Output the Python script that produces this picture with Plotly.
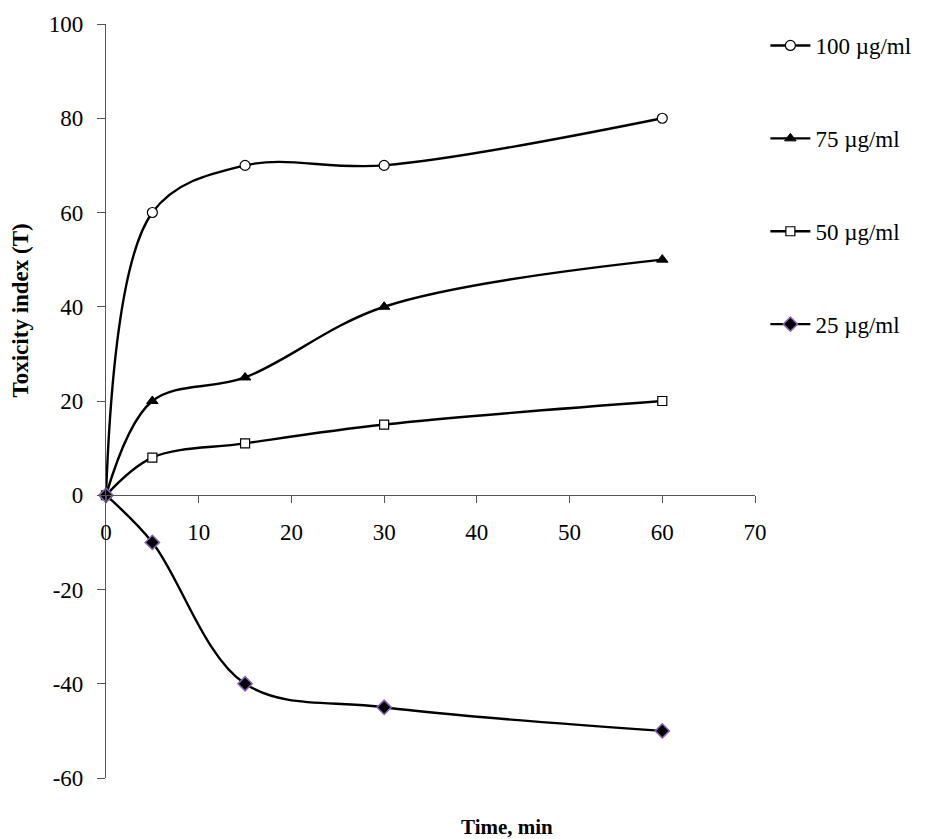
import plotly.graph_objects as go

time_min = [0, 5, 15, 30, 60]
series_names = ["100 µg/ml", "75 µg/ml", "50 µg/ml", "25 µg/ml"]
tox_100 = [0, 60, 70, 70, 80]
tox_75 = [0, 20, 25, 40, 50]
tox_50 = [0, 8, 11, 15, 20]
tox_25 = [0, -10, -40, -45, -50]
x_ticks = [0, 10, 20, 30, 40, 50, 60, 70]
y_ticks = [-60, -40, -20, 0, 20, 40, 60, 80, 100]
y_tick_text = ["-60", "-40", "-20", "0", "20", "40", "60", "80", "100"]

FONT = "Liberation Serif, Times New Roman, serif"

styles = [
    dict(symbol="circle", color="white", line=dict(color="black", width=1.2), size=10),
    dict(symbol="triangle-up", color="black", line=dict(color="black", width=1), size=10),
    dict(symbol="square", color="white", line=dict(color="black", width=1.2), size=9),
    dict(symbol="diamond", color="black", line=dict(color="#8a63b8", width=1.5), size=11),
]

fig = go.Figure()
for i, (name, vals) in enumerate(zip(series_names, [tox_100, tox_75, tox_50, tox_25])):
    fig.add_trace(go.Scatter(
        x=time_min, y=vals, name=name, mode="lines+markers",
        line=dict(color="black", width=2.4, shape="spline", smoothing=1.0),
        marker=styles[i], cliponaxis=False, legendgroup=f"g{i}",
    ))

ypos = 60 / 160

fig.update_layout(
    width=925, height=839,
    margin=dict(l=98, r=178, t=16, b=69, autoexpand=False),
    paper_bgcolor="white", plot_bgcolor="white",
    font=dict(family=FONT, size=22, color="black"),
    showlegend=True,
    legend=dict(x=1.016, y=1.0, xanchor="left", yanchor="top",
                tracegroupgap=60, itemwidth=40, font=dict(size=23, family=FONT),
                bgcolor="rgba(0,0,0,0)"),
    xaxis=dict(range=[0, 70], tickvals=x_ticks, anchor="free", position=ypos,
               showline=True, linecolor="#555", linewidth=1.2,
               ticks="outside", ticklen=7, tickcolor="#555", tickwidth=1.2,
               showgrid=False, zeroline=False, ticklabelstandoff=9,
               automargin=False, tickfont=dict(size=23, family=FONT)),
    xaxis2=dict(range=[0, 70], tickvals=x_ticks, overlaying="x", anchor="free",
                position=ypos, side="bottom", showline=False,
                ticks="inside", ticklen=7, tickcolor="#555", tickwidth=1.2,
                showticklabels=False, showgrid=False, zeroline=False, automargin=False),
    yaxis=dict(range=[-60, 100], tickvals=y_ticks, ticktext=y_tick_text,
               showline=True, linecolor="#555", linewidth=1.2,
               ticks="outside", ticklen=8, tickcolor="#555", tickwidth=1.2,
               showgrid=False, zeroline=False, ticklabelstandoff=9,
               automargin=False, tickfont=dict(size=23, family=FONT)),
)

fig.add_annotation(text="<b>Time, min</b>", xref="paper", yref="paper",
                   x=0.618, y=-0.046, xanchor="center", yanchor="top",
                   showarrow=False, font=dict(size=21, family=FONT))
fig.add_annotation(text="<b>Toxicity index (T)</b>", xref="paper", yref="paper",
                   x=-0.131, y=0.62, xanchor="center", yanchor="middle",
                   textangle=-90, showarrow=False, font=dict(size=23, family=FONT))

fig.write_html("out.html")
